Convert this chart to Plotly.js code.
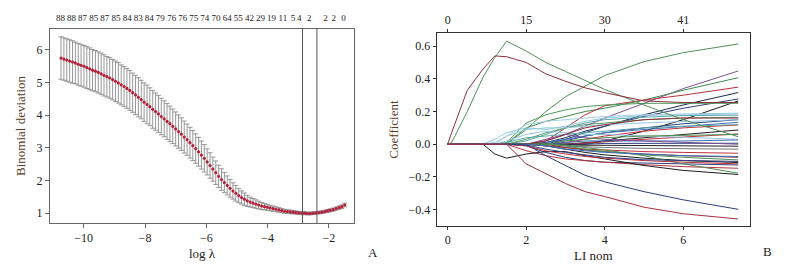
<!DOCTYPE html>
<html>
<head>
<meta charset="utf-8">
<script src="https://cdn.plot.ly/plotly-3.0.1.min.js"></script>
<style>html,body{margin:0;padding:0;background:#fff;}#chart{width:788px;height:268px;}</style>
</head>
<body>
<div id="chart"></div>
<script>
// ---------- Panel A: cross-validated binomial deviance ----------
const logLambda = [-10.740,-10.647,-10.553,-10.460,-10.366,-10.273,-10.179,-10.086,-9.992,-9.899,
-9.805,-9.712,-9.618,-9.525,-9.431,-9.338,-9.244,-9.151,-9.057,-8.964,
-8.870,-8.777,-8.683,-8.590,-8.496,-8.403,-8.309,-8.216,-8.122,-8.029,
-7.935,-7.842,-7.748,-7.655,-7.561,-7.468,-7.374,-7.281,-7.187,-7.094,
-7.000,-6.907,-6.813,-6.720,-6.626,-6.533,-6.439,-6.346,-6.252,-6.159,
-6.065,-5.972,-5.878,-5.785,-5.691,-5.598,-5.504,-5.411,-5.317,-5.224,
-5.130,-5.037,-4.943,-4.850,-4.756,-4.663,-4.569,-4.476,-4.382,-4.289,
-4.195,-4.102,-4.008,-3.915,-3.821,-3.728,-3.634,-3.541,-3.447,-3.354,
-3.260,-3.167,-3.073,-2.980,-2.886,-2.793,-2.699,-2.606,-2.512,-2.419,
-2.325,-2.232,-2.138,-2.045,-1.951,-1.858,-1.764,-1.671,-1.577,-1.484];
const meanDeviance = [5.75,5.72,5.69,5.66,5.63,5.60,5.56,5.53,5.50,5.46,
5.42,5.38,5.35,5.31,5.27,5.22,5.18,5.14,5.09,5.04,
4.99,4.93,4.88,4.82,4.76,4.69,4.62,4.55,4.48,4.40,
4.33,4.26,4.18,4.11,4.04,3.96,3.89,3.81,3.74,3.66,
3.58,3.50,3.42,3.33,3.25,3.16,3.07,2.98,2.88,2.78,
2.68,2.57,2.46,2.35,2.24,2.13,2.03,1.94,1.85,1.76,
1.68,1.61,1.54,1.48,1.43,1.38,1.34,1.31,1.28,1.25,
1.22,1.20,1.18,1.16,1.14,1.12,1.10,1.08,1.06,1.05,
1.04,1.03,1.02,1.01,1.00,1.00,0.99,0.99,1.00,1.01,
1.02,1.03,1.05,1.07,1.09,1.11,1.14,1.17,1.20,1.25];
const sdDeviance = [0.65,0.65,0.65,0.65,0.65,0.64,0.64,0.64,0.64,0.64,
0.64,0.63,0.63,0.63,0.63,0.63,0.62,0.62,0.62,0.62,
0.62,0.61,0.61,0.61,0.61,0.60,0.60,0.60,0.59,0.59,
0.59,0.58,0.58,0.57,0.57,0.56,0.55,0.55,0.54,0.53,
0.52,0.51,0.50,0.49,0.48,0.47,0.46,0.45,0.44,0.43,
0.42,0.40,0.39,0.37,0.36,0.34,0.33,0.31,0.29,0.27,
0.25,0.24,0.22,0.20,0.19,0.17,0.15,0.14,0.13,0.12,
0.11,0.10,0.09,0.085,0.08,0.075,0.07,0.065,0.06,0.058,
0.055,0.05,0.048,0.046,0.045,0.044,0.043,0.042,0.041,0.04,
0.04,0.041,0.042,0.044,0.046,0.048,0.05,0.052,0.054,0.056];
const lambdaMin = -2.86;
const lambda1se = -2.39;
const nzPos = [-10.76,-10.40,-10.04,-9.67,-9.31,-8.95,-8.58,-8.22,-7.86,-7.50,-7.13,-6.77,-6.41,-6.05,-5.68,-5.32,-4.96,-4.59,-4.23,-3.87,-3.50,-3.17,-2.97,-2.64,-2.11,-1.84,-1.52];
const nzLabels = ['88','88','87','85','87','85','84','83','84','79','76','76','75','74','70','64','55','42','29','19','11','5','4','2','2','2','0'];

// ---------- Panel B: coefficient paths ----------
const l1Norm = [0, 0.1, 0.5, 0.9, 1.2, 1.5, 2, 2.5, 3, 3.5, 4, 5, 6, 7.4];
const topDf = ['0','15','30','41'];
const coefPaths = [
 [0,0,0,0,0,0,0.09,0.2,0.29,0.355,0.42,0.505,0.56,0.613],
 [0,0,0,0,0,0,0,0.02,0.06,0.11,0.16,0.25,0.34,0.448],
 [0,0,0,0,0,0.005,0.1,0.14,0.17,0.2,0.22,0.27,0.33,0.407],
 [0,0,0,0,0,0,0,0.02,0.1,0.18,0.235,0.27,0.3,0.349],
 [0,0,0,0,0,0,0,0.01,0.04,0.08,0.11,0.18,0.24,0.316],
 [0,0,0,0,0,0,0,0,0,0,0.02,0.08,0.15,0.265],
 [0,0,0,0,0,0,0,0,0.03,0.07,0.11,0.17,0.22,0.277],
 [0,0,0,0,0,0.01,0.13,0.18,0.21,0.23,0.24,0.25,0.25,0.25],
 [0,0,0,0,0.03,0.07,0.1,0.09,0.11,0.14,0.16,0.175,0.185,0.19],
 [0,0,0,0,0,0.05,0.12,0.14,0.15,0.16,0.17,0.18,0.18,0.185],
 [0,0,0,0,0,0,0.02,0.06,0.1,0.13,0.15,0.165,0.175,0.178],
 [0,0,0,0,0,0,0.03,0.07,0.1,0.12,0.13,0.15,0.16,0.165],
 [0,0,0,0,0,0,0,0,0.02,0.05,0.07,0.1,0.125,0.15],
 [0,0,0,0,0,0,0,0.01,0.03,0.05,0.07,0.09,0.11,0.134],
 [0,0,0,0,0,0,0,0,0.01,0.03,0.05,0.08,0.1,0.118],
 [0,0,0,0,0,0,0,0,0,0.01,0.02,0.04,0.06,0.087],
 [0,0,0,0,0,0,0,0,0,0.005,0.015,0.03,0.045,0.063],
 [0,0,0,0,0,0.02,0.06,0.08,0.07,0.06,0.06,0.05,0.04,0.03],
 [0,0,0,0,0,0,0,0,0.01,0.02,0.02,0.02,0.02,0.026],
 [0,0,0,0,0,0,0,0,0,0,0.005,0.005,0.005,0.006],
 [0,0,0,0,0,0,0,0.03,0.06,0.04,0.03,0.02,0.01,0.0],
 [0,0,0,0,0,0,0,0,-0.005,-0.005,-0.005,-0.008,-0.01,-0.012],
 [0,0,0,0,0,0,0,0,-0.01,-0.015,-0.02,-0.025,-0.028,-0.03],
 [0,0,0,0,0,0,0,-0.01,-0.02,-0.03,-0.035,-0.045,-0.05,-0.055],
 [0,0,0,0,0,0,0,0,-0.02,-0.035,-0.045,-0.06,-0.07,-0.08],
 [0,0,0,0,0,0,0,0,-0.01,-0.03,-0.045,-0.065,-0.08,-0.096],
 [0,0,0,0,0,0,0,-0.01,-0.03,-0.05,-0.065,-0.085,-0.1,-0.112],
 [0,0,0,0,0,0,-0.01,-0.05,-0.08,-0.1,-0.11,-0.115,-0.12,-0.127],
 [0,0,0,0,0,0,-0.04,-0.07,-0.09,-0.1,-0.11,-0.125,-0.137,-0.147],
 [0,0,0,0,0,0,0,0,-0.005,-0.02,-0.035,-0.07,-0.12,-0.177],
 [0,0,0,0,-0.06,-0.085,-0.06,-0.045,-0.045,-0.07,-0.09,-0.13,-0.16,-0.185],
 [0,0,0,0,0,0,0,-0.07,-0.13,-0.19,-0.23,-0.29,-0.34,-0.398],
 [0,0,0,0,0.01,0.05,0.09,0.1,0.1,0.11,0.12,0.13,0.14,0.15],
 [0,0,0,0,0,0.01,0.04,0.05,0.06,0.07,0.08,0.1,0.11,0.12],
 [0,0,0,0,0,0,0,0.02,0.06,0.1,0.12,0.15,0.16,0.16],
 [0,0,0,0,0,0,0,0,0.02,0.03,0.04,0.05,0.055,0.06],
 [0,0,0,0,0,0,0,-0.01,-0.03,-0.04,-0.05,-0.06,-0.07,-0.075],
 [0,0,0,0,0,0,-0.01,-0.04,-0.06,-0.075,-0.085,-0.1,-0.11,-0.12],
 [0,0,0,0,0,0,-0.005,-0.03,-0.05,-0.065,-0.08,-0.095,-0.1,-0.105],
 [0,0.01,0.2,0.41,0.53,0.63,0.57,0.5,0.445,0.39,0.335,0.24,0.15,0.046],
 [0,0,0,0,0,0,-0.12,-0.18,-0.24,-0.29,-0.32,-0.385,-0.425,-0.457],
 [0,0.07,0.33,0.46,0.54,0.535,0.5,0.43,0.385,0.345,0.315,0.265,0.255,0.255]
];
const pathColors = ['#4f8f57','#7d4f93','#3f8a4c','#b8303c','#1f2a55','#1e1e1e','#2d3f7d','#4f9a5a','#94c8df','#a6d0e2','#5aa7a8','#5c9a62','#2d3f7d','#3d6fb5','#c0303c','#222222','#c0303c','#8fc4dc','#3d6fb5','#2d3f7d','#7d4f93','#1e1e1e','#777777','#c0303c','#8c2f3c','#4f8f57','#1e1e1e','#2d3f7d','#b8303c','#4f8f57','#1e1e1e','#2d3f7d','#94c8df','#5aa7a8','#8c2f3c','#4f8f57','#3d6fb5','#c0303c','#2d3f7d','#4f8f57','#a83040','#8c2f3c'];

const serif = 'Liberation Serif, Times New Roman, serif';
const traces = [];
traces.push({
  type:'scatter', mode:'markers', x:logLambda, y:meanDeviance, xaxis:'x', yaxis:'y',
  marker:{color:'#b3203a', size:3.2},
  error_y:{type:'data', array:sdDeviance, visible:true, color:'#8a8a8a', thickness:0.9, width:2.5},
  hoverinfo:'skip'
});
traces.push({type:'scatter', mode:'markers', x:[nzPos[0]], y:[null], xaxis:'x3', yaxis:'y', hoverinfo:'skip', showlegend:false});
coefPaths.forEach((p,i)=>{
  traces.push({type:'scatter', mode:'lines', x:l1Norm, y:p, xaxis:'x2', yaxis:'y2',
    line:{color:pathColors[i % pathColors.length], width:1}, hoverinfo:'skip'});
});
traces.push({type:'scatter', mode:'markers', x:[0], y:[null], xaxis:'x4', yaxis:'y2', hoverinfo:'skip', showlegend:false});

const axCommon = {showgrid:false, zeroline:false, showline:true, mirror:true, linewidth:1,
  ticks:'outside', ticklen:4, tickwidth:1, tickfont:{family:serif, size:12, color:'#222'}};

const layout = {
  width:788, height:268,
  margin:{l:50, r:38, t:29, b:42, pad:0},
  paper_bgcolor:'#ffffff', plot_bgcolor:'#ffffff',
  font:{family:serif, size:12, color:'#222'},
  showlegend:false,
  xaxis:Object.assign({}, axCommon, {domain:[0,0.4343], anchor:'y', range:[-11.1,-1.18],
    tickvals:[-10,-8,-6,-4,-2], linecolor:'#666', tickcolor:'#666',
    title:{text:'log λ', standoff:4, font:{family:serif, size:13, color:'#2a2018'}}}),
  yaxis:Object.assign({}, axCommon, {domain:[0.0153,1], anchor:'x', range:[0.70,6.64],
    tickvals:[1,2,3,4,5,6], linecolor:'#666', tickcolor:'#666',
    title:{text:'Binomial deviation', standoff:8, font:{family:serif, size:13, color:'#5a3a22'}}}),
  xaxis3:{overlaying:'x', side:'top', anchor:'y', range:[-11.1,-1.18], tickvals:nzPos, ticktext:nzLabels,
    ticks:'', showline:false, showgrid:false, zeroline:false, ticklabelstandoff:5, tickangle:0,
    tickfont:{family:serif, size:9, color:'#222'}},
  xaxis2:Object.assign({}, axCommon, {domain:[0.5524,1], anchor:'y2', range:[-0.28,7.70],
    tickvals:[0,2,4,6], linecolor:'#333', tickcolor:'#333', ticklen:3,
    title:{text:'LI nom', standoff:4, font:{family:serif, size:13, color:'#2a2018'}}}),
  yaxis2:Object.assign({}, axCommon, {domain:[0,0.9796], anchor:'x2', range:[-0.50,0.68],
    tickvals:[-0.4,-0.2,0,0.2,0.4,0.6], tickformat:'.1f', linecolor:'#333', tickcolor:'#333', ticklen:3,
    title:{text:'Coefficient', standoff:6, font:{family:serif, size:13, color:'#5a3a22'}}}),
  xaxis4:{overlaying:'x2', side:'top', anchor:'y2', range:[-0.28,7.70], tickvals:[0,2,4,6], ticktext:topDf,
    ticks:'outside', ticklen:3, tickcolor:'#333', showline:false, showgrid:false, zeroline:false, tickangle:0,
    tickfont:{family:serif, size:12, color:'#222'}},
  shapes:[
    {type:'line', xref:'x', yref:'y domain', x0:lambdaMin, x1:lambdaMin, y0:0, y1:1, line:{color:'#555', width:1}},
    {type:'line', xref:'x', yref:'y domain', x0:lambda1se, x1:lambda1se, y0:0, y1:1, line:{color:'#555', width:1}}
  ],
  annotations:[
    {text:'A', xref:'paper', yref:'paper', x:(373-50)/700, y:(268-42-252)/196, xanchor:'center', yanchor:'middle', showarrow:false, font:{family:serif, size:13, color:'#222'}},
    {text:'B', xref:'paper', yref:'paper', x:(767-50)/700, y:(268-42-251)/196, xanchor:'center', yanchor:'middle', showarrow:false, font:{family:serif, size:13, color:'#222'}}
  ]
};
Plotly.newPlot('chart', traces, layout, {displayModeBar:false, staticPlot:true});
</script>
</body>
</html>
